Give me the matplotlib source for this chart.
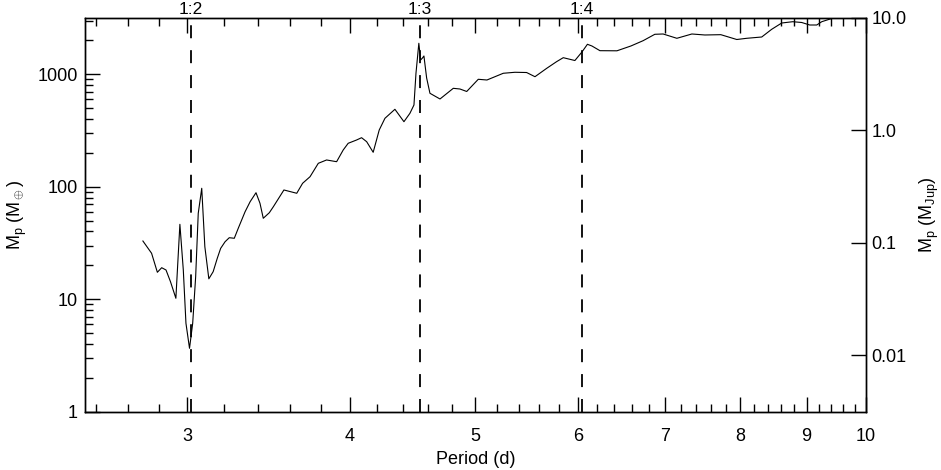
import matplotlib
matplotlib.use("Agg")
import matplotlib.pyplot as plt
from matplotlib.ticker import FixedLocator, NullFormatter, FixedFormatter
import matplotlib.transforms as mtransforms

plt.rcParams['font.family'] = ['Liberation Sans', 'DejaVu Sans']
plt.rcParams['mathtext.fontset'] = 'custom'
plt.rcParams['mathtext.rm'] = 'Liberation Sans'
plt.rcParams['mathtext.it'] = 'Liberation Sans'

period = [2.772, 2.815, 2.844, 2.866, 2.888, 2.911, 2.939, 2.960, 2.978, 2.992,
          3.011, 3.028, 3.044, 3.058, 3.077, 3.094, 3.116, 3.140, 3.163, 3.182,
          3.207, 3.231, 3.260, 3.283, 3.323, 3.353, 3.388, 3.412, 3.432, 3.469,
          3.494, 3.560, 3.642, 3.680, 3.729, 3.784, 3.840, 3.909, 3.955, 3.990,
          4.050, 4.086, 4.123, 4.171, 4.216, 4.259, 4.335, 4.405, 4.452, 4.484,
          4.500, 4.523, 4.537, 4.552, 4.564, 4.586, 4.613, 4.696, 4.808, 4.865,
          4.924, 5.026, 5.104, 5.254, 5.364, 5.476, 5.558, 5.675, 5.775, 5.844,
          5.966, 6.041, 6.100, 6.149, 6.237, 6.428, 6.589, 6.734, 6.875, 6.977,
          7.149, 7.342, 7.513, 7.729, 7.951, 8.093, 8.311, 8.459, 8.611, 8.781,
          8.922, 9.050, 9.163, 9.245, 9.410]
mass = [32.9, 25.6, 17.35, 19.05, 18.18, 14.31, 10.19, 46.3, 18.18, 6.11,
        3.66, 6.11, 15.85, 58.0, 96.8, 29.3, 15.18, 17.56, 23.1, 28.3,
        32.4, 35.2, 34.8, 42.7, 59.9, 73.6, 88.4, 71.2, 52.4, 58.7,
        66.4, 93.5, 87.4, 107.2, 122.7, 161.4, 172.8, 166.8, 212.0, 243.1,
        260.1, 272.6, 251.2, 202.2, 319.2, 405.5, 487.5, 378.2, 449.2, 532.5,
        1019, 1883, 1337, 1393, 1452, 925, 676.6, 602, 749, 738.6,
        702.0, 901, 888, 1019, 1040, 1035, 950, 1128, 1292, 1402,
        1323, 1575, 1844, 1781, 1618, 1614, 1781, 1986, 2263, 2277,
        2085, 2277, 2231, 2245, 2034, 2085, 2141, 2506, 2851, 2928,
        2881, 2737, 2737, 2928, 3127]

# Resonances
res_periods = [3.02, 4.53, 6.04]
res_labels = ['1:2', '1:3', '1:4']

x_major = [3, 4, 5, 6, 7, 8, 9, 10]
x_major_labels = ['3', '4', '5', '6', '7', '8', '9', '10']
x_minor = [2.55, 2.7, 2.85, 3.2, 3.4, 3.6, 3.8, 4.2, 4.4, 4.6, 4.8,
           5.2, 5.4, 5.6, 5.8, 6.2, 6.4, 6.6, 6.8, 7.2, 7.4, 7.6, 7.8,
           8.2, 8.4, 8.6, 8.8, 9.2, 9.4, 9.6, 9.8]
y_major = [1, 10, 100, 1000]
y_major_labels = ['1', '10', '100', '1000']
jup_major = [0.01, 0.1, 1.0, 10.0]
jup_labels = ['0.01', '0.1', '1.0', '10.0']
MJUP = 317.8

fig = plt.figure(figsize=(9.41, 4.70), dpi=100)
ax = fig.add_axes([84.7/941, 1 - 411.7/470, (866 - 84.7)/941, (411.7 - 17.7)/470])

ax.plot(period, mass, color='black', lw=0.8)
for p in res_periods:
    ax.axvline(p, color='black', lw=1.3, ls=(0, (7.2, 6.6)))

ax.set_xscale('log')
ax.set_yscale('log')
ax.set_xlim(2.5, 10)
ax.set_ylim(1, 10 * MJUP)

ax.xaxis.set_major_locator(FixedLocator(x_major))
ax.xaxis.set_major_formatter(FixedFormatter(x_major_labels))
ax.xaxis.set_minor_locator(FixedLocator(x_minor))
ax.xaxis.set_minor_formatter(NullFormatter())

y_minor = [m * d for d in [1, 10, 100, 1000] for m in range(2, 10) if m * d <= 3178]
ax.yaxis.set_major_locator(FixedLocator(y_major))
ax.yaxis.set_major_formatter(FixedFormatter(y_major_labels))
ax.yaxis.set_minor_locator(FixedLocator(y_minor))
ax.yaxis.set_minor_formatter(NullFormatter())

ax.tick_params(axis='x', which='both', direction='in', top=True, bottom=True,
               labelsize=13, pad=12)
ax.tick_params(axis='y', which='both', direction='in', left=True, right=False,
               labelsize=13, pad=5)
ax.tick_params(which='major', length=11, width=1.0)
ax.tick_params(which='minor', length=5.5, width=1.0)
for s in ax.spines.values():
    s.set_linewidth(1.0)

ax.set_xlabel('Period (d)', fontsize=13, labelpad=4)
ax.set_ylabel(r'M$_\mathregular{p}$ (M$_\oplus$)', fontsize=13, labelpad=6)

trans = mtransforms.blended_transform_factory(ax.transData, ax.transAxes)
offset = mtransforms.ScaledTranslation(0, 3.5 / 100, fig.dpi_scale_trans)
for p, lab in zip(res_periods, res_labels):
    ax.text(p, 1.0, lab, transform=trans + offset, ha='center', va='baseline',
            fontsize=12.5)

ax2 = ax.twinx()
ax2.set_yscale('log')
ax2.set_ylim(1 / MJUP, 10)
ax2.yaxis.set_major_locator(FixedLocator(jup_major))
ax2.yaxis.set_major_formatter(FixedFormatter(jup_labels))
ax2.yaxis.set_minor_locator(FixedLocator([]))
ax2.tick_params(axis='y', which='major', direction='in', length=11, width=1.0,
                labelsize=13, pad=4)
ax2.set_ylabel(r'M$_\mathregular{p}$ (M$_\mathregular{Jup}$)', fontsize=13, labelpad=8)
for s in ax2.spines.values():
    s.set_linewidth(1.0)

fig.savefig('out.png', dpi=100)
